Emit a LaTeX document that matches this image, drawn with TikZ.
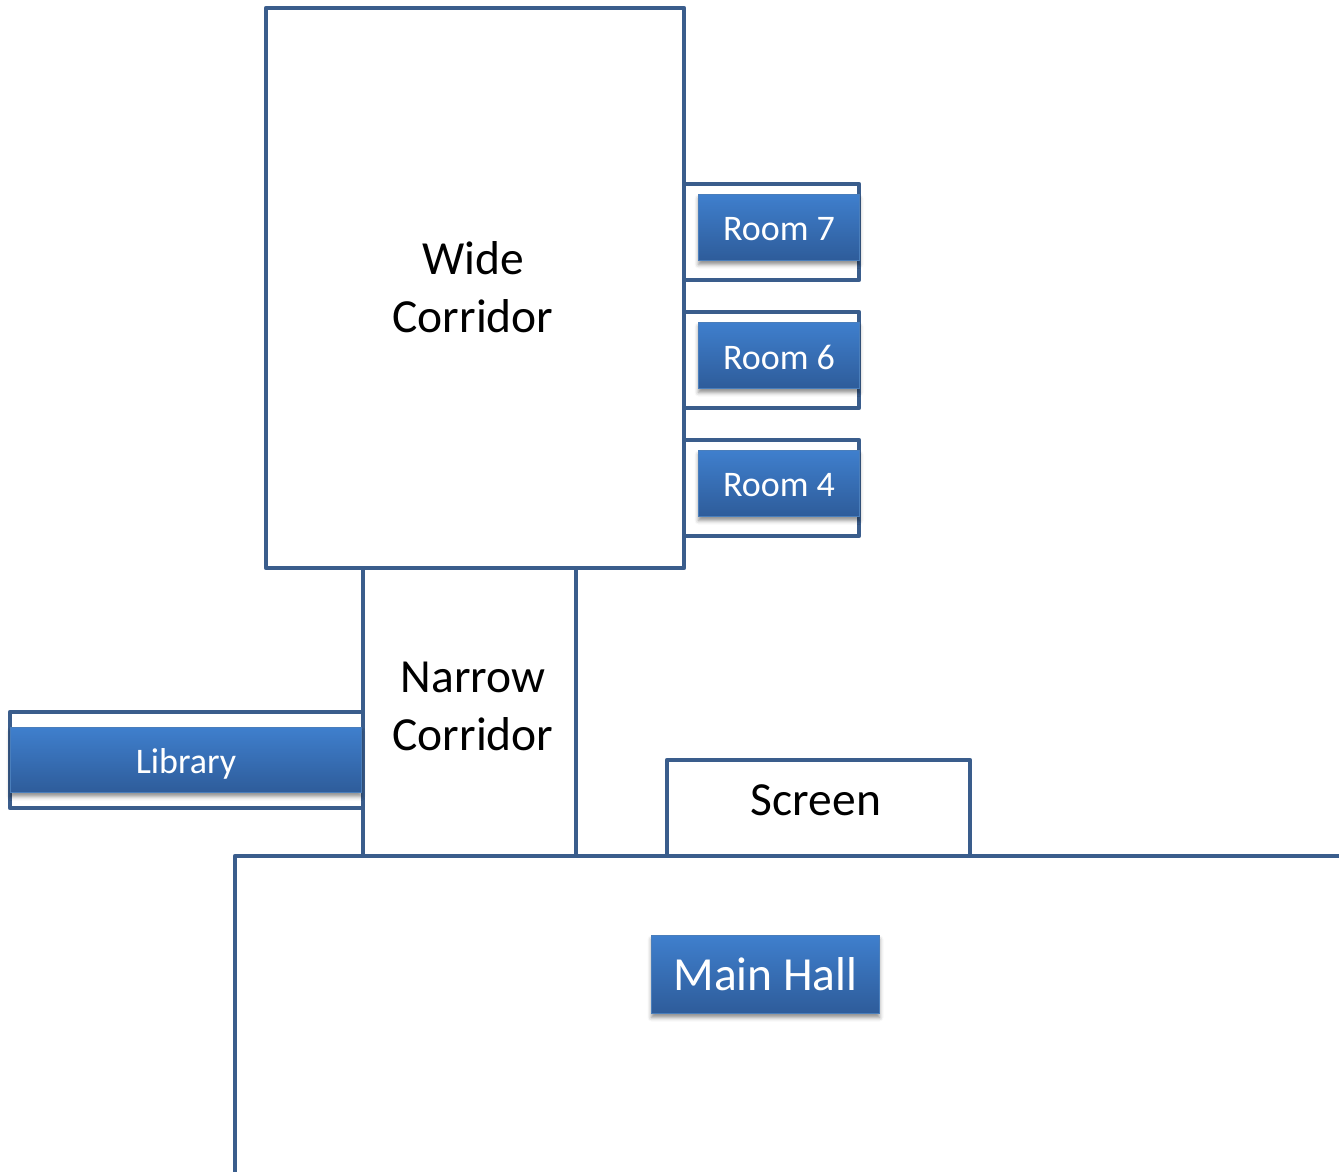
\documentclass[tikz,border=0pt]{standalone}
\usepackage{fontspec}
\setmainfont{Carlito}
\usetikzlibrary{shadows,shadows.blur}
\definecolor{wallc}{HTML}{3A5D8C}
\definecolor{btop}{HTML}{3F7FCD}
\definecolor{bbot}{HTML}{2E5C9A}
\definecolor{bedge}{HTML}{4A7EBB}
\newcommand{\lowered}[2]{\raisebox{-#1}[\height][\depth]{#2}}
\begin{document}
\begin{tikzpicture}[x=1pt,y=-1pt,
  wall/.style={draw=wallc,line width=4.6pt,line join=round},
  btn/.style={rectangle,top color=btop,bottom color=bbot,draw=bedge,line width=1pt,
    text=white,inner sep=0pt,anchor=north west,
    blur shadow={shadow xshift=0pt,shadow yshift=-4pt,shadow blur radius=4pt,shadow opacity=45}},
  bigtxt/.style={font=\fontsize{47.5}{58}\selectfont,align=center,inner sep=0pt},
  smalltxt/.style={font=\fontsize{36}{44}\selectfont}]
\useasboundingbox (0,0) rectangle (1339,1172);
% Wide corridor
\draw[wall] (266,8) rectangle (684,568);
\node[bigtxt] (wide) at (473,287) {Wide\\Corridor};
% Room outer boxes
\draw[wall] (684,184) -- (859,184) -- (859,280) -- (684,280);
\draw[wall] (684,312) -- (859,312) -- (859,408) -- (684,408);
\draw[wall] (684,440) -- (859,440) -- (859,536) -- (684,536);
\node[btn,smalltxt,minimum width=161pt,minimum height=66pt] (room7) at (698,194) {\lowered{2pt}{Room 7}};
\node[btn,smalltxt,minimum width=161pt,minimum height=66pt] (room6) at (698,322) {\lowered{2pt}{Room 6}};
\node[btn,smalltxt,minimum width=161pt,minimum height=66pt] (room4) at (698,450) {\lowered{2pt}{Room 4}};
% Narrow corridor
\draw[wall] (363,568) -- (363,855);
\draw[wall] (576,568) -- (576,855);
\node[bigtxt] (narrow) at (473,706) {Narrow\\Corridor};
% Library
\draw[wall] (363,712) -- (10,712) -- (10,808) -- (363,808);
\node[btn,smalltxt,minimum width=351pt,minimum height=65pt] (library) at (10,727) {\lowered{4pt}{Library}};
% Screen
\draw[wall] (667,855) -- (667,760) -- (970,760) -- (970,855);
\node[bigtxt] (screen) at (816,800) {Screen};
% Main hall
\draw[wall] (235,1172) -- (235,856) -- (1339,856);
\node[btn,bigtxt,minimum width=228pt,minimum height=78pt] (mainhall) at (651,935) {Main Hall};
\end{tikzpicture}
\end{document}
